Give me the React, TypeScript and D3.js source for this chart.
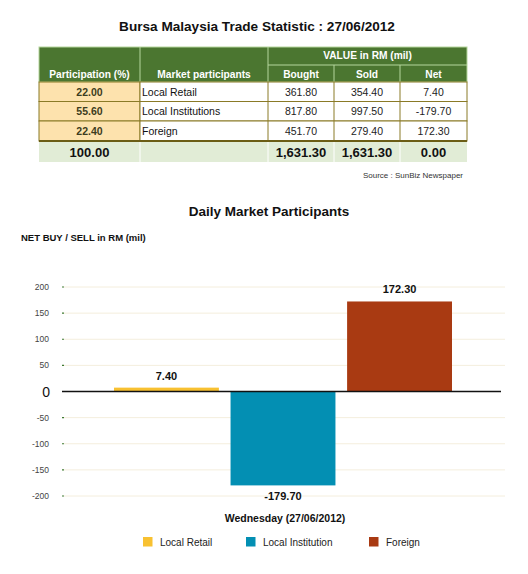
import React from "react";
import * as d3 from "d3";

const participants = ["Local Retail", "Local Institutions", "Foreign"];
const participation = [22.0, 55.6, 22.4];
const bought = [361.8, 817.8, 451.7];
const sold = [354.4, 997.5, 279.4];
const net = [7.4, -179.7, 172.3];

const seriesNames = ["Local Retail", "Local Institution", "Foreign"];
const seriesColors = ["#f8c131", "#038fb3", "#a93a12"];
const yTicks = [200, 150, 100, 50, 0, -50, -100, -150, -200];

const FONT = "Helvetica, Arial, 'Liberation Sans', sans-serif";
const locale = d3.formatLocale({ decimal: ".", thousands: ",", grouping: [3], currency: ["", ""], minus: "-" });
const fmt = locale.format(",.2f");

const colX = [39, 140, 268, 334, 400, 467];
const rowY = [82, 101.5, 121, 141, 162];

export default function App() {
    const y = d3.scaleLinear().domain([-200, 200]).range([496, 287]);
    const x = d3.scaleBand().domain(seriesNames).range([114, 452]).paddingInner(0.1).paddingOuter(0);
    const plotLeft = 62;
    const plotRight = 505;

    const totals = [d3.sum(participation), null, d3.sum(bought), d3.sum(sold), d3.sum(net)];
    const cx = (i: number) => (colX[i] + colX[i + 1]) / 2;

    return (
        <svg width={528} height={574} style={{ position: "absolute", left: 0, top: 0, background: "#fff" }} fontFamily={FONT}>
            <text x={257} y={31} textAnchor="middle" fontSize={13.6} fontWeight="bold" fill="#111">
                Bursa Malaysia Trade Statistic : 27/06/2012
            </text>

            {/* table header */}
            <rect x={colX[0]} y={47} width={colX[5] - colX[0]} height={35} fill="#4b7630" stroke="#b5d69c" strokeWidth={1} />
            <line x1={colX[1]} x2={colX[1]} y1={47} y2={82} stroke="#b5d69c" />
            <line x1={colX[2]} x2={colX[2]} y1={47} y2={82} stroke="#b5d69c" />
            <line x1={colX[2]} x2={colX[5]} y1={65} y2={65} stroke="#b5d69c" />
            <line x1={colX[3]} x2={colX[3]} y1={65} y2={82} stroke="#b5d69c" />
            <line x1={colX[4]} x2={colX[4]} y1={65} y2={82} stroke="#b5d69c" />
            <g fontSize={10.2} fontWeight="bold" fill="#fff" textAnchor="middle">
                <text x={cx(0)} y={78}>Participation (%)</text>
                <text x={cx(1)} y={78}>Market participants</text>
                <text x={(colX[2] + colX[5]) / 2} y={59}>VALUE in RM (mil)</text>
                <text x={cx(2)} y={78}>Bought</text>
                <text x={cx(3)} y={78}>Sold</text>
                <text x={cx(4)} y={78}>Net</text>
            </g>

            {/* data rows */}
            {participants.map((p, i) => {
                const y0 = rowY[i];
                const h = rowY[i + 1] - rowY[i];
                const ty = y0 + h / 2 + 3.8;
                return (
                    <g key={p} fontSize={10.5}>
                        <rect x={colX[0]} y={y0} width={colX[1] - colX[0]} height={h} fill="#fde2ad" stroke="#8a7a26" />
                        <rect x={colX[1]} y={y0} width={colX[5] - colX[1]} height={h} fill="#fff" stroke="#8a7a26" />
                        {[2, 3, 4].map((c) => (
                            <line key={c} x1={colX[c]} x2={colX[c]} y1={y0} y2={y0 + h} stroke="#8a7a26" />
                        ))}
                        <text x={cx(0)} y={ty} textAnchor="middle" fontWeight="bold" fill="#3d3d20">{fmt(participation[i])}</text>
                        <text x={colX[1] + 2} y={ty} fill="#111">{p}</text>
                        <text x={cx(2)} y={ty} textAnchor="middle" fill="#222">{fmt(bought[i])}</text>
                        <text x={cx(3)} y={ty} textAnchor="middle" fill="#222">{fmt(sold[i])}</text>
                        <text x={cx(4)} y={ty} textAnchor="middle" fill="#222">{fmt(net[i])}</text>
                    </g>
                );
            })}

            {/* totals */}
            <rect x={colX[0]} y={rowY[3]} width={colX[5] - colX[0]} height={rowY[4] - rowY[3]} fill="#e1ecd6" />
            {[1, 2, 3, 4].map((c) => (
                <line key={c} x1={colX[c]} x2={colX[c]} y1={rowY[3]} y2={rowY[4]} stroke="#fff" />
            ))}
            <line x1={colX[0]} x2={colX[5]} y1={rowY[3]} y2={rowY[3]} stroke="#6b5d15" strokeWidth={2} />
            <g fontSize={13} fontWeight="bold" fill="#111" textAnchor="middle">
                {totals.map((t, i) => t === null ? null : (
                    <text key={i} x={cx(i)} y={rowY[3] + 15.5}>{fmt(Math.abs(t) < 1e-9 ? 0 : t)}</text>
                ))}
            </g>
            <text x={463} y={178} textAnchor="end" fontSize={8} fill="#333">Source : SunBiz Newspaper</text>

            {/* chart */}
            <text x={269} y={216} textAnchor="middle" fontSize={13.5} fontWeight="bold" fill="#111">Daily Market Participants</text>
            <text x={21} y={241} fontSize={9.5} fontWeight="bold" fill="#111">NET BUY / SELL in RM (mil)</text>

            {yTicks.map((t) => (
                <g key={t}>
                    {t !== 0 && <line x1={plotLeft + 2} x2={plotRight} y1={y(t)} y2={y(t)} stroke="#f4eedd" strokeWidth={1} />}
                    {t !== 0 && <line x1={plotLeft} x2={plotLeft + 2} y1={y(t)} y2={y(t)} stroke="#3f7a32" strokeWidth={1.2} />}
                    <text x={t === 0 ? 50 : 49} y={y(t) + (t === 0 ? 5 : 3)} textAnchor="end"
                        fontSize={t === 0 ? 14 : 8.5} fill={t === 0 ? "#111" : "#444"}>{t}</text>
                </g>
            ))}

            {net.map((v, i) => (
                <rect key={i} x={x(seriesNames[i])} y={y(Math.max(0, v))} width={x.bandwidth()}
                    height={Math.abs(y(v) - y(0))} fill={seriesColors[i]} />
            ))}
            <line x1={plotLeft} x2={501} y1={y(0)} y2={y(0)} stroke="#111" strokeWidth={1.5} />

            {net.map((v, i) => (
                <text key={i} x={(x(seriesNames[i]) || 0) + x.bandwidth() / 2}
                    y={v >= 0 ? y(v) - 8 : y(v) + 15} textAnchor="middle" fontSize={11} fontWeight="bold" fill="#111">
                    {fmt(v)}
                </text>
            ))}

            <text x={285} y={522} textAnchor="middle" fontSize={10.5} fontWeight="bold" fill="#111">Wednesday (27/06/2012)</text>

            {seriesNames.map((s, i) => {
                const lx = [143, 246, 369][i];
                return (
                    <g key={s}>
                        <rect x={lx} y={537} width={9.5} height={9.5} fill={seriesColors[i]} />
                        <text x={lx + 17} y={546} fontSize={10} fill="#222">{s}</text>
                    </g>
                );
            })}
        </svg>
    );
}
